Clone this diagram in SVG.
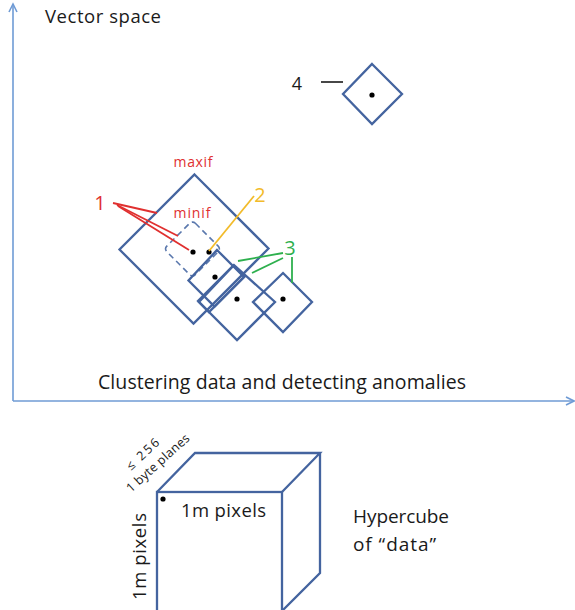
<svg xmlns="http://www.w3.org/2000/svg" width="575" height="610" viewBox="0 0 575 610">
  <style>
    .box { fill: none; stroke: #44649f; stroke-width: 2.3; stroke-linejoin: miter; }
    .dash { fill: none; stroke: #5a78ad; stroke-width: 1.6; stroke-dasharray: 6 4; }
    .axis { fill: none; stroke: #6f9bd5; stroke-width: 1.6; }
    .dot { fill: #000; }
    .txt { font-family: "Open Sans", "Noto Sans", "Liberation Sans", sans-serif; fill: #1a1a1a; }
    .red { fill: #e0302f; }
    .redl { stroke: #e0302f; stroke-width: 1.8; fill: none; }
    .yel { fill: #f2bb2a; }
    .yell { stroke: #f2bb2a; stroke-width: 1.8; fill: none; }
    .grn { fill: #2eb04e; }
    .grnl { stroke: #2eb04e; stroke-width: 1.8; fill: none; }
  </style>

  <!-- axes -->
  <g id="axes">
    <line class="axis" x1="13" y1="401" x2="13" y2="4"/>
    <polyline class="axis" points="9,12 13,4 17,12"/>
    <line class="axis" x1="13" y1="401" x2="573" y2="401"/>
    <polyline class="axis" points="566,397 574,401 566,405"/>
    <text class="txt" x="45" y="23" font-size="18.5" textLength="116">Vector space</text>
    <text class="txt" x="98" y="389" font-size="19.5" textLength="368">Clustering data and detecting anomalies</text>
  </g>

  <!-- large cluster (maxif) -->
  <g id="maxif">
    <polygon class="box" points="194.5,174.5 268.5,248.5 193.5,323.5 119.5,249.5"/>
    <text class="txt red" x="193" y="167" font-size="14" text-anchor="middle" textLength="39">maxif</text>
  </g>

  <!-- small cluster (minif) -->
  <g id="minif">
    <rect class="dash" x="172.3" y="228.8" width="40.3" height="40.3" rx="4" transform="rotate(45 192.5 249)"/>
    <text class="txt red" x="192" y="218" font-size="14" text-anchor="middle" textLength="37">minif</text>
    <circle class="dot" cx="193" cy="252" r="2.6"/>
    <circle class="dot" cx="209" cy="252" r="2.6"/>
  </g>

  <!-- overlapping clusters -->
  <g id="cluster-a">
    <polygon class="box" points="217,250 244,277 214.5,306.5 188.5,280.5"/>
    <circle class="dot" cx="215" cy="277" r="2.6"/>
  </g>
  <g id="cluster-strip">
    <polygon class="box" points="233.5,265.5 244.5,276.5 209,312 198,301"/>
  </g>
  <g id="cluster-b">
    <polygon class="box" points="234,265 275,302 237,340 199,302"/>
    <circle class="dot" cx="237" cy="299" r="2.6"/>
  </g>
  <g id="cluster-c">
    <polygon class="box" points="283,273 312,302 283,332 253,302"/>
    <circle class="dot" cx="283" cy="299" r="2.6"/>
  </g>

  <!-- isolated point -->
  <g id="anomaly">
    <polygon class="box" points="372,64 402,94 372,124 343,94"/>
    <circle class="dot" cx="372" cy="95" r="2.6"/>
  </g>

  <!-- callout labels and leader lines -->
  <g id="connectors">
    <line class="redl" x1="113" y1="203" x2="157" y2="213"/>
    <line class="redl" x1="117" y1="205" x2="178" y2="236"/>
    <line class="redl" x1="118" y1="206" x2="189" y2="250"/>
    <line class="yell" x1="254" y1="196" x2="209" y2="251"/>
    <line class="grnl" x1="283" y1="253" x2="238" y2="261"/>
    <line class="grnl" x1="283" y1="258" x2="252" y2="273"/>
    <line class="grnl" x1="292" y1="257" x2="292" y2="283"/>
    <line stroke="#1a1a1a" stroke-width="1.6" x1="321" y1="82" x2="343" y2="82"/>
  </g>
  <g id="labels">
    <text class="txt red" x="100" y="210" font-size="20" text-anchor="middle">1</text>
    <text class="txt yel" x="260" y="202" font-size="20" text-anchor="middle">2</text>
    <text class="txt grn" x="290" y="255" font-size="20" text-anchor="middle">3</text>
    <text class="txt" x="297" y="90" font-size="18" text-anchor="middle">4</text>
  </g>

  <!-- data hypercube -->
  <g id="hypercube">
    <rect class="box" x="157" y="492" width="125" height="130"/>
    <polyline class="box" points="157,492 195,453 320,453 282,492"/>
    <polyline class="box" points="320,453 320,573 282,611"/>
    <circle class="dot" cx="163" cy="499" r="2.6"/>
    <text class="txt" x="181" y="517" font-size="18.5" textLength="85">1m pixels</text>
    <text class="txt" font-size="18.5" textLength="87" transform="translate(146 600) rotate(-90)">1m pixels</text>
    <text class="txt" font-size="12.5" textLength="40" transform="translate(131 471) rotate(-43)">≤ 256</text>
    <text class="txt" font-size="12.5" textLength="80" transform="translate(131 493) rotate(-42)">1 byte planes</text>
    <text class="txt" x="353" y="523" font-size="19" textLength="96">Hypercube</text>
    <text class="txt" x="353" y="551" font-size="19" textLength="83">of “data”</text>
  </g>
</svg>
